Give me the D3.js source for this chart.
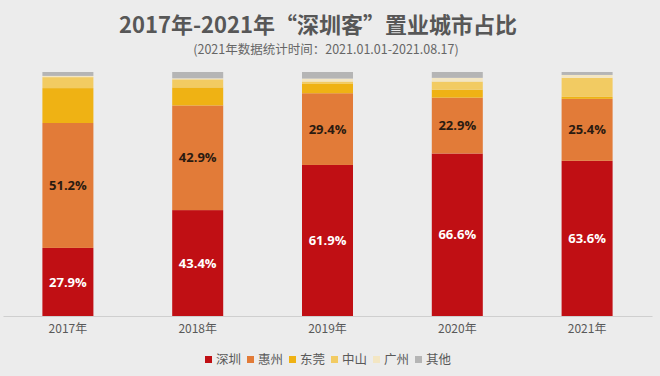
<!DOCTYPE html>
<html>
<head>
<meta charset="utf-8">
<script src="https://cdn.jsdelivr.net/npm/d3@7"></script>
<style>
  html, body { margin: 0; padding: 0; background: #ececec; }
  svg { display: block; font-family: "Noto Sans CJK SC", "Noto Sans", sans-serif; }
</style>
</head>
<body>
<figure id="chart" style="margin:0"></figure>
<script>
// data (share in %)
const years = ['2017年', '2018年', '2019年', '2020年', '2021年'];
const cities = ['深圳', '惠州', '东莞', '中山', '广州', '其他'];
const shenzhen = [27.9, 43.4, 61.9, 66.6, 63.6];
const huizhou = [51.2, 42.9, 29.4, 22.9, 25.4];
const dongguan = [14.3, 7.4, 3.8, 3.3, 0.8];
const zhongshan = [4.5, 3.3, 1.0, 3.3, 7.8];
const guangzhou = [0.5, 0.4, 1.2, 1.5, 1.2];
const other = [1.6, 2.6, 2.7, 2.4, 1.2];

const colors = ['#c00f14', '#e27b38', '#efb214', '#f2cb62', '#f3e6c3', '#b5b5b5'];

const dimensions = {
  width: 660,
  height: 376,
  margin: { top: 72, right: 8, bottom: 60, left: 3 },
};
dimensions.boundedWidth = dimensions.width - dimensions.margin.left - dimensions.margin.right;
dimensions.boundedHeight = dimensions.height - dimensions.margin.top - dimensions.margin.bottom;

const table = years.map((y, i) => ({
  year: y,
  '深圳': shenzhen[i],
  '惠州': huizhou[i],
  '东莞': dongguan[i],
  '中山': zhongshan[i],
  '广州': guangzhou[i],
  '其他': other[i],
}));

const svg = d3.select('figure#chart')
  .append('svg')
  .attr('width', dimensions.width)
  .attr('height', dimensions.height);

// titles
svg.append('text')
  .attr('x', 318)
  .attr('y', 33)
  .attr('text-anchor', 'middle')
  .attr('font-size', 22)
  .attr('font-weight', 'bold')
  .attr('fill', '#575757')
  .text('2017年-2021年“深圳客”置业城市占比');

svg.append('text')
  .attr('x', 326)
  .attr('y', 54)
  .attr('text-anchor', 'middle')
  .attr('font-size', 12.5)
  .attr('fill', '#666')
  .text('(2021年数据统计时间：2021.01.01-2021.08.17)');

const g = svg.append('g')
  .attr('transform', `translate(${dimensions.margin.left}, ${dimensions.margin.top})`);

const xScale = d3.scaleBand()
  .domain(years)
  .range([0, dimensions.boundedWidth])
  .paddingInner(0.607)
  .paddingOuter(0.3035);

const yScale = d3.scaleLinear()
  .domain([0, 100])
  .range([dimensions.boundedHeight, 0]);

const color = d3.scaleOrdinal().domain(cities).range(colors);

const stacked = d3.stack().keys(cities)(table);

const layers = g.selectAll('g.layer')
  .data(stacked)
  .enter()
  .append('g')
  .attr('class', 'layer')
  .attr('fill', d => color(d.key));

layers.selectAll('rect')
  .data(d => d)
  .enter()
  .append('rect')
  .attr('x', d => xScale(d.data.year))
  .attr('y', d => yScale(d[1]))
  .attr('width', xScale.bandwidth())
  .attr('height', d => yScale(d[0]) - yScale(d[1]));

// value labels on the two big segments
stacked.slice(0, 2).forEach((layer, li) => {
  g.selectAll('text.lab' + li)
    .data(layer)
    .enter()
    .append('text')
    .attr('class', 'lab' + li)
    .attr('x', d => xScale(d.data.year) + xScale.bandwidth() / 2)
    .attr('y', d => (yScale(d[0]) + yScale(d[1])) / 2)
    .attr('dy', '0.35em')
    .attr('text-anchor', 'middle')
    .attr('font-family', '"Open Sans", "Noto Sans", sans-serif')
    .attr('font-size', 13)
    .attr('font-weight', 'bold')
    .attr('fill', li === 0 ? '#ffffff' : '#2a1a10')
    .text(d => d3.format('.1f')(d[1] - d[0]) + '%');
});

// x axis
const xAxis = g.append('g')
  .attr('class', 'x axis')
  .attr('transform', `translate(0,${dimensions.boundedHeight})`)
  .call(d3.axisBottom(xScale).tickSize(0).tickPadding(8));
xAxis.select('.domain').attr('stroke', '#cfcfcf');
xAxis.selectAll('text')
  .attr('font-family', '"Noto Sans CJK SC", sans-serif')
  .attr('font-size', 12)
  .attr('fill', '#595959');

// legend
const legend = svg.append('g')
  .attr('transform', 'translate(205, 360)');
const item = legend.selectAll('g')
  .data(cities)
  .enter()
  .append('g')
  .attr('transform', (d, i) => `translate(${i * 42}, 0)`);
item.append('rect')
  .attr('x', 0)
  .attr('y', -4)
  .attr('width', 7)
  .attr('height', 7)
  .attr('fill', d => color(d));
item.append('text')
  .attr('x', 11)
  .attr('y', 0)
  .attr('dy', '0.35em')
  .attr('font-size', 12.5)
  .attr('fill', '#595959')
  .text(d => d);
</script>
</body>
</html>
